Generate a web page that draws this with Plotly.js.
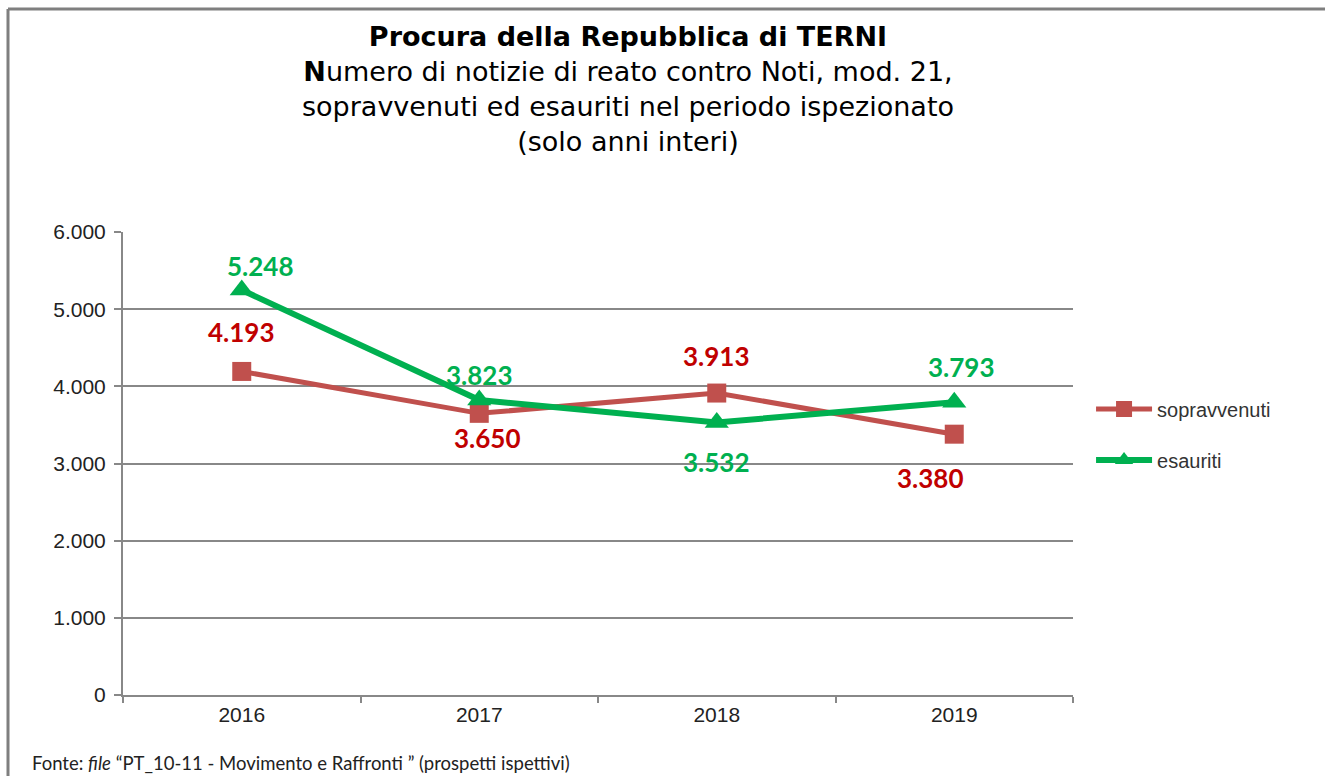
<!DOCTYPE html>
<html>
<head>
<meta charset="utf-8">
<script src="https://cdn.plot.ly/plotly-3.0.1.min.js"></script>
<style>
  html, body { margin: 0; padding: 0; background: #fff; }
  #chart { width: 1325px; height: 776px; }
</style>
</head>
<body>
<div id="chart"></div>
<script>
const years = ['2016', '2017', '2018', '2019'];
const sopravvenuti = [4193, 3650, 3913, 3380];
const esauriti = [5248, 3823, 3532, 3793];
const yTicks = [0, 1000, 2000, 3000, 4000, 5000, 6000];

// label offsets in px (Excel places them a bit irregularly)
const sopDx = [0, 8, 0, -24];
const sopDy = [39, -25, 37, -44];
const esaDx = [19, 0, 0, 7];
const esaDy = [24, 25, -40, 35];

const red = '#C0504D';
const redText = '#C00000';
const green = '#00B050';
const grid = '#888888';

function fmt(v) {
  return String(v).replace(/\B(?=(\d{3})+(?!\d))/g, '.');
}

function labels(values, dx, dy, color) {
  // x given as category index, a numeric-looking name would be read as an index
  return values.map((v, i) => ({
    x: i, y: v, xref: 'x', yref: 'y',
    text: '<b>' + fmt(v) + '</b>', showarrow: false,
    xanchor: 'center', yanchor: 'middle',
    xshift: dx[i], yshift: dy[i],
    font: { family: 'Lato, sans-serif', size: 26, color: color },
  }));
}

const traces = [
  {
    type: 'scatter', mode: 'lines+markers', name: 'sopravvenuti',
    x: years, y: sopravvenuti, legendgroup: 'a',
    line: { color: red, width: 5 },
    marker: { symbol: 'square', size: 19, color: red },
    hoverinfo: 'skip',
  },
  {
    type: 'scatter', mode: 'lines+markers', name: 'esauriti',
    x: years, y: esauriti, legendgroup: 'b',
    line: { color: green, width: 6 },
    marker: { symbol: 'triangle-up', size: 21, color: green },
    hoverinfo: 'skip',
  },
];

const layout = {
  width: 1325, height: 776,
  margin: { l: 123, r: 252, t: 232, b: 81 },
  paper_bgcolor: '#fff', plot_bgcolor: '#fff',
  separators: ',.',
  font: { family: '"Liberation Sans", Arial, sans-serif', size: 21, color: '#222' },
  title: {
    text: '<b>Procura della Repubblica di TERNI</b><br><b>N</b>umero di notizie di reato contro Noti, mod. 21,<br>sopravvenuti ed esauriti nel periodo ispezionato<br>(solo anni interi)',
    font: { family: '"DejaVu Sans", Verdana, sans-serif', size: 27, color: '#000' },
    x: 628 / 1325, xanchor: 'center', xref: 'container',
    y: 1 - 46 / 776, yanchor: 'top', yref: 'container',
  },
  xaxis: {
    type: 'category', range: [-0.5, 3.5],
    tickson: 'boundaries', ticks: 'outside', ticklen: 6, tickwidth: 2, tickcolor: grid,
    showline: true, linecolor: grid, linewidth: 2,
    showgrid: false, zeroline: false,
    tickfont: { size: 21, color: '#222' },
    fixedrange: true,
  },
  yaxis: {
    range: [0, 6000], tickvals: yTicks, tickformat: ',d',
    ticks: 'outside', ticklen: 7, tickwidth: 2, tickcolor: grid,
    showline: true, linecolor: grid, linewidth: 2,
    showgrid: true, gridcolor: grid, gridwidth: 2,
    zeroline: false, ticklabelstandoff: 4,
    tickfont: { size: 21, color: '#222' },
    fixedrange: true,
  },
  showlegend: true,
  legend: {
    x: 1.019, xanchor: 'left', y: 0.66, yanchor: 'top',
    font: { size: 20, color: '#333' },
    tracegroupgap: 22, itemwidth: 56,
    bgcolor: 'rgba(0,0,0,0)',
  },
  annotations: [
    ...labels(sopravvenuti, sopDx, sopDy, redText),
    ...labels(esauriti, esaDx, esaDy, green),
    {
      xref: 'paper', yref: 'paper', x: -93 / 950, y: -68 / 463,
      xanchor: 'left', yanchor: 'middle', showarrow: false,
      text: 'Fonte: <i>file</i> \u201CPT_10-11 - Movimento e Raffronti \u201D (prospetti ispettivi)',
      font: { family: 'Lato, sans-serif', size: 18.5, color: '#222' },
    },
  ],
  shapes: [
    // outer chart frame (only top and left edges are inside the picture)
    { type: 'line', xref: 'paper', yref: 'paper', x0: -115 / 950, x1: -115 / 950, y0: 686 / 463, y1: -90 / 463, line: { color: '#7f7f7f', width: 3 } },
    { type: 'line', xref: 'paper', yref: 'paper', x0: -115 / 950, x1: 1210 / 950, y0: 686 / 463, y1: 686 / 463, line: { color: '#7f7f7f', width: 3 } },
  ],
};

Plotly.newPlot('chart', traces, layout, { staticPlot: true, displayModeBar: false });
</script>
</body>
</html>
